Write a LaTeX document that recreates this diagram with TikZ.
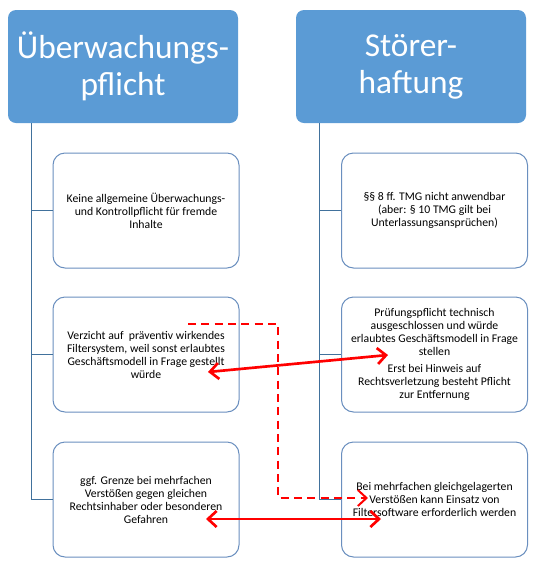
\documentclass[tikz,border=0pt]{standalone}
\usepackage{fontspec}
\setmainfont{Carlito}
\usetikzlibrary{arrows.meta}

\definecolor{headblue}{HTML}{5B9BD5}
\definecolor{boxline}{HTML}{6A8FBF}
\definecolor{stemline}{HTML}{41719C}

\begin{document}
\begin{tikzpicture}[%
    x=0.75pt, y=-0.75pt,
    head/.style={fill=headblue, rounded corners=6pt, text=white,
      minimum width=172.5pt, minimum height=84.75pt, inner sep=0pt,
      align=center, font=\fontsize{25}{28}\selectfont},
    item/.style={draw=boxline, line width=0.75pt, fill=white, rounded corners=9pt,
      minimum width=139.5pt, minimum height=86.25pt, inner sep=0pt,
      align=center, font=\fontsize{8.8}{9.75}\selectfont},
    stem/.style={draw=stemline, line width=0.75pt},
    link/.style={draw=red, line width=2pt,
      {Straight Barb[length=6.5pt,width=12pt]}-{Straight Barb[length=6.5pt,width=12pt]}},
    hint/.style={draw=red, line width=1.5pt, dash pattern=on 6pt off 4pt,
      -{Straight Barb[length=6.5pt,width=12pt]}}
  ]
  \useasboundingbox (0,0) rectangle (539,569);

  % headers
  \node[head] (ueber) at (123,66.5) {Überwachungs-\\pflicht};
  \node[head] (stoer) at (411,66.5) {Störer-\\haftung};

  % left column
  \node[item] (l1) at (146,210.5) {Keine allgemeine Überwachungs-\\und Kontrollpflicht für fremde\\Inhalte};
  \node[item] (l2) at (146,354.5) {Verzicht auf\ \ präventiv wirkendes\\Filtersystem, weil sonst erlaubtes\\Geschäftsmodell in Frage gestellt\\würde};
  \node[item] (l3) at (146,499.5) {ggf. Grenze bei mehrfachen\\Verstößen gegen gleichen\\Rechtsinhaber oder besonderen\\Gefahren};

  % right column
  \node[item] (r1) at (434.5,210.5) {§§ 8 ff. TMG nicht anwendbar\\(aber: § 10 TMG gilt bei\\Unterlassungsansprüchen)};
  \node[item] (r2) at (434.5,354.5) {Prüfungspflicht technisch\\ausgeschlossen und würde\\erlaubtes Geschäftsmodell in Frage\\stellen\\[3pt]Erst bei Hinweis auf\\Rechtsverletzung besteht Pflicht\\zur Entfernung};
  \node[item] (r3) at (434.5,499.5) {Bei mehrfachen gleichgelagerten\\Verstößen kann Einsatz von\\Filtersoftware erforderlich werden};

  % stems
  \coordinate (lroot) at (31,123);
  \coordinate (rroot) at (319,123);
  \draw[stem] (lroot) |- (l1.west);
  \draw[stem] (lroot) |- (l2.west);
  \draw[stem] (lroot) |- (l3.west);
  \draw[stem] (rroot) |- (r1.west);
  \draw[stem] (rroot) |- (r2.west);
  \draw[stem] (rroot) |- (r3.west);

  % red arrows
  \coordinate (pa) at (208,372);
  \coordinate (pb) at (388,355);
  \coordinate (fs) at (188,324);
  \coordinate (fc) at (278,498);
  \coordinate (fe) at (368,498);
  \coordinate (ga) at (206,519);
  \coordinate (gb) at (381,519);

  \draw[link] (pa) -- (pb);
  \draw[hint] (fs) -| (fc) -- (fe);
  \draw[link] (ga) -- (gb);
\end{tikzpicture}
\end{document}
